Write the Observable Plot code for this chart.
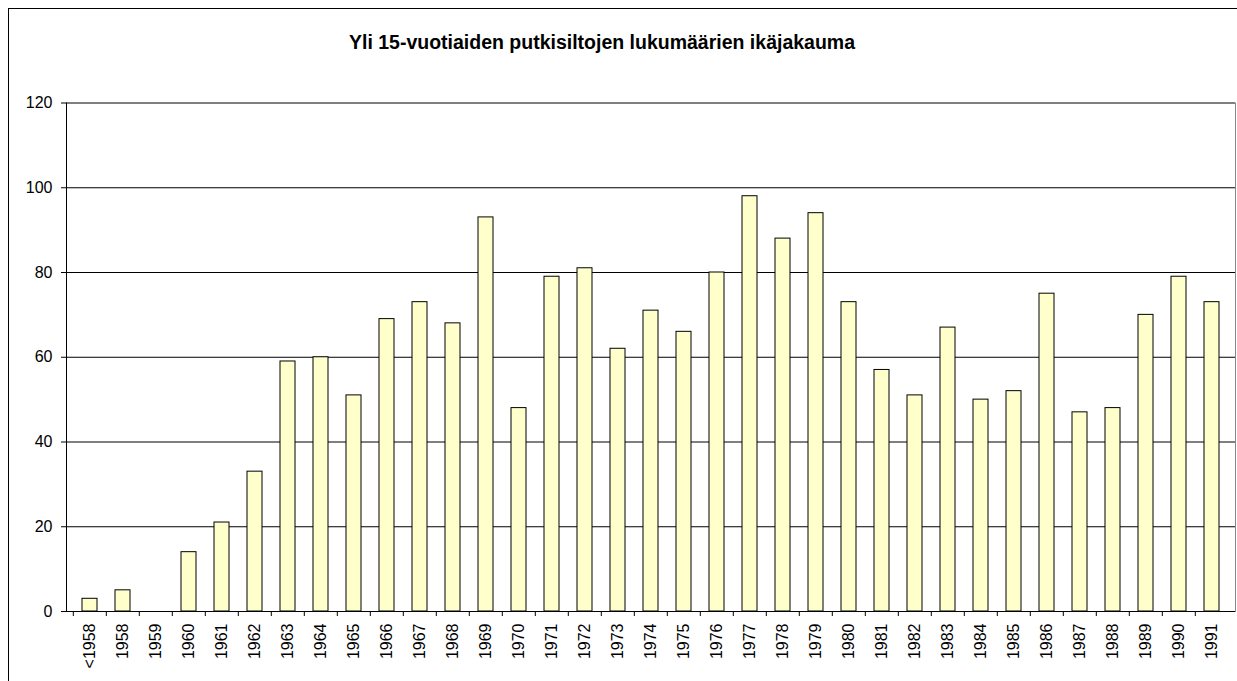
<!DOCTYPE html>
<html>
<head>
<meta charset="utf-8">
<script src="https://cdn.jsdelivr.net/npm/d3@7"></script>
<script src="https://cdn.jsdelivr.net/npm/@observablehq/plot@0.6"></script>
<style>
  html, body { margin: 0; padding: 0; background: #fff; overflow: hidden; }
  #wrap { position: relative; width: 1237px; height: 681px; overflow: hidden; font-family: Arial, "Liberation Sans", sans-serif; }
  #frame { position: absolute; left: 8px; top: 8px; width: 1250px; height: 700px; border: 1px solid #000; box-sizing: border-box; }
  #title { position: absolute; left: 0; top: 31px; width: 1204px; text-align: center; font-weight: bold; font-size: 19.5px; color: #000; }
  #chart { position: absolute; left: 0; top: 0; }
  #chart svg text { font-size: 16px !important; font-family: Arial, "Liberation Sans", sans-serif !important; fill: #000; }
</style>
</head>
<body>
<div id="wrap">
  <div id="frame"></div>
  <div id="title">Yli 15-vuotiaiden putkisiltojen lukumäärien ikäjakauma</div>
  <div id="chart"></div>
</div>
<script>
const categories = ["<1958","1958","1959","1960","1961","1962","1963","1964","1965","1966","1967","1968","1969","1970","1971","1972","1973","1974","1975","1976","1977","1978","1979","1980","1981","1982","1983","1984","1985","1986","1987","1988","1989","1990","1991"];
const counts = [3,5,0,14,21,33,59,60,51,69,73,68,93,48,79,81,62,71,66,80,98,88,94,73,57,51,67,50,52,75,47,48,70,79,73];
const yTicks = [0,20,40,60,80,100,120];

const data = categories.map((c, i) => ({year: c, count: counts[i]}));

const W = 1237, H = 681;
const mL = 66, mR = 2, mT = 102.5, mB = 70;
const step = (W - mL - mR) / categories.length;
const pad = 0.55;

const chart = Plot.plot({
  width: W,
  height: H,
  marginLeft: mL,
  marginRight: mR,
  marginTop: mT,
  marginBottom: mB,
  style: {fontFamily: "Arial, 'Liberation Sans', sans-serif", fontSize: "16px", color: "#000", background: "transparent"},
  x: {domain: categories, paddingInner: pad, paddingOuter: pad / 2, label: null},
  y: {domain: [0, 120], ticks: yTicks, label: null},
  marks: [
    Plot.gridY(yTicks, {stroke: "#000", strokeOpacity: 1, strokeWidth: 1}),
    Plot.frame({anchor: "right", stroke: "#888", strokeWidth: 1}),
    Plot.barY(data, {x: "year", y: "count", fill: "#FFFFCC", stroke: "#000", strokeWidth: 1}),
    Plot.frame({anchor: "left", stroke: "#000", strokeWidth: 1}),
    Plot.axisY({ticks: yTicks, tickSize: 5, tickPadding: 9, label: null, fontSize: 16}),
    Plot.ruleY([0], {stroke: "#000", strokeWidth: 1}),
    Plot.axisX({tickSize: 0, tickPadding: 12, tickRotate: -90, label: null, fontSize: 16}),
    Plot.axisX({tickSize: 5, tickFormat: () => "", dx: -step / 2, label: null})
  ]
});
document.getElementById("chart").appendChild(chart);
</script>
</body>
</html>
